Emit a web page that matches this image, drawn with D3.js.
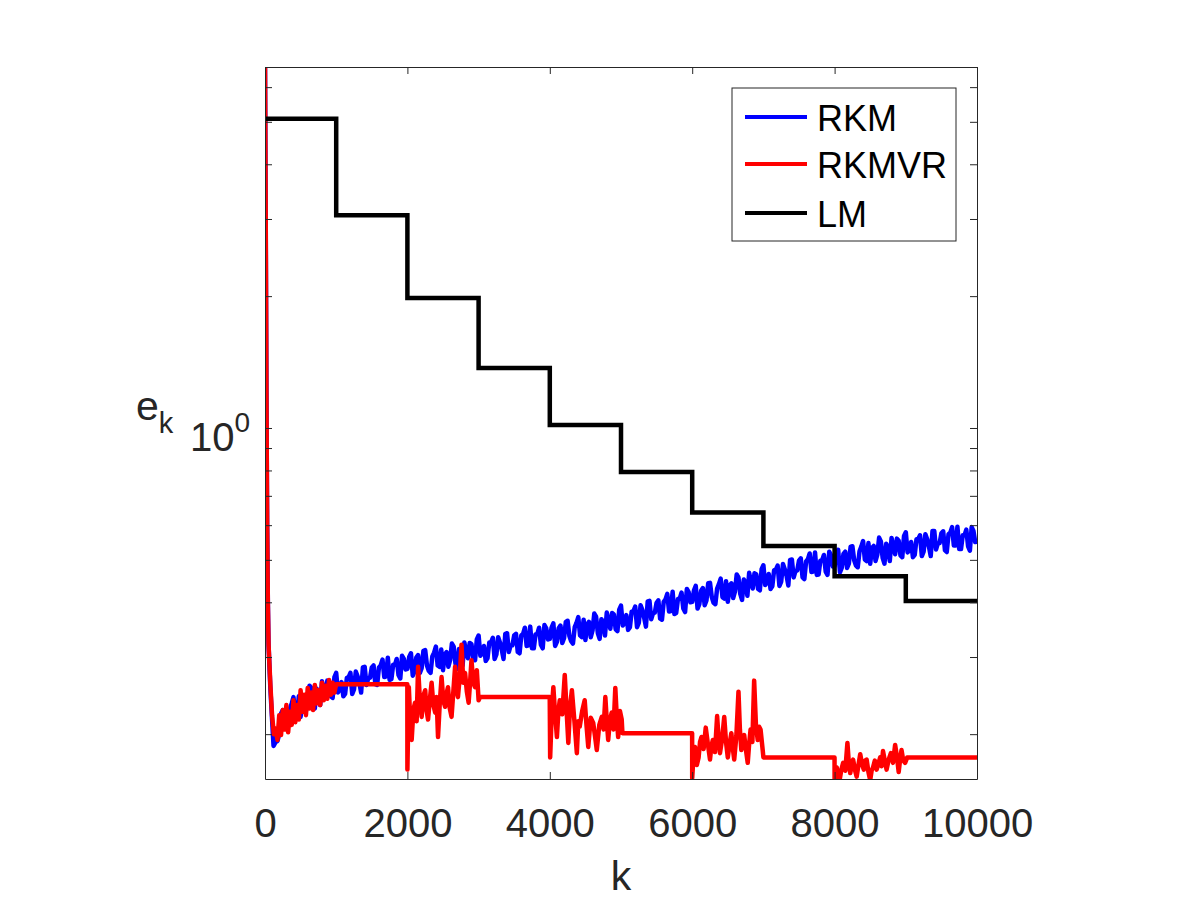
<!DOCTYPE html>
<html>
<head>
<meta charset="utf-8">
<script src="https://cdn.jsdelivr.net/npm/d3@7"></script>
<style>
  body { margin: 0; background: #fff; }
  svg { display: block; }
</style>
</head>
<body>
<svg id="chart" width="1200" height="900"></svg>
<script>
// ---------------- DATA ----------------
const seriesNames = ["RKM", "RKMVR", "LM"];
const xTickValues = [0, 2000, 4000, 6000, 8000, 10000];
const yMajorTickValues = [1];
const yMinorTickValues = [0.2, 0.3, 0.4, 0.5, 0.6, 0.7, 0.8, 0.9, 2, 3, 4, 5, 6];
const xDomain = [0, 10000];
const yDomain = [0.158, 6.67];

// LM: constant over blocks of 1000 iterations
const lmBlockStart = [0, 1000, 2000, 3000, 4000, 5000, 6000, 7000, 8000, 9000];
const lmValue = [5.08, 3.06, 1.98, 1.37, 1.016, 0.793, 0.641, 0.538, 0.459, 0.403];

// RKM: [k, e_k]
const rkmData = [
  [0,6.67],[10,3.0],[20,1.2],[30,0.6],[40,0.40],[50,0.32],[75,0.255],[100,0.215],[120,0.188],[150,0.192],
  [175,0.193],[200,0.200],[225,0.223],[250,0.227],[275,0.213],[300,0.210],[325,0.209],[350,0.228],[375,0.235],[400,0.243],
  [425,0.222],[450,0.221],[475,0.244],[500,0.219],[525,0.240],[550,0.243],[575,0.226],[600,0.235],[625,0.258],[650,0.255],
  [675,0.234],[700,0.229],[725,0.254],[750,0.250],[775,0.233],[800,0.264],[825,0.253],[850,0.243],[875,0.265],[900,0.263],
  [925,0.244],[950,0.242],[975,0.270],[1000,0.276],[1025,0.249],[1050,0.253],[1075,0.263],[1100,0.244],[1125,0.247],[1150,0.269],
  [1175,0.270],[1200,0.276],[1225,0.247],[1250,0.253],[1275,0.278],[1300,0.271],[1325,0.262],[1350,0.249],[1375,0.284],[1400,0.285],
  [1425,0.259],[1450,0.268],[1475,0.269],[1500,0.284],[1525,0.287],[1550,0.260],[1575,0.259],[1600,0.284],[1625,0.287],[1650,0.296],
  [1675,0.270],[1700,0.271],[1725,0.299],[1750,0.266],[1775,0.267],[1800,0.288],[1825,0.288],[1850,0.297],[1875,0.273],[1900,0.268],
  [1925,0.302],[1950,0.297],[1975,0.281],[2000,0.282],[2025,0.300],[2050,0.306],[2075,0.272],[2100,0.278],[2125,0.299],[2150,0.303],
  [2175,0.276],[2200,0.283],[2225,0.310],[2250,0.311],[2275,0.287],[2300,0.279],[2325,0.276],[2350,0.301],[2375,0.307],[2400,0.317],
  [2425,0.287],[2450,0.285],[2475,0.312],[2500,0.280],[2525,0.304],[2550,0.308],[2575,0.285],[2600,0.295],[2625,0.322],[2650,0.317],
  [2675,0.290],[2700,0.282],[2725,0.313],[2750,0.308],[2775,0.287],[2800,0.324],[2825,0.309],[2850,0.298],[2875,0.323],[2900,0.321],
  [2925,0.297],[2950,0.295],[2975,0.329],[3000,0.336],[3025,0.302],[3050,0.306],[3075,0.318],[3100,0.294],[3125,0.298],[3150,0.324],
  [3175,0.324],[3200,0.332],[3225,0.297],[3250,0.304],[3275,0.333],[3300,0.324],[3325,0.312],[3350,0.297],[3375,0.339],[3400,0.340],
  [3425,0.308],[3450,0.319],[3475,0.319],[3500,0.336],[3525,0.339],[3550,0.308],[3575,0.306],[3600,0.336],[3625,0.339],[3650,0.350],
  [3675,0.318],[3700,0.319],[3725,0.352],[3750,0.314],[3775,0.314],[3800,0.338],[3825,0.339],[3850,0.350],[3875,0.320],[3900,0.314],
  [3925,0.355],[3950,0.349],[3975,0.329],[4000,0.330],[4025,0.350],[4050,0.358],[4075,0.318],[4100,0.325],[4125,0.349],[4150,0.354],
  [4175,0.323],[4200,0.331],[4225,0.361],[4250,0.363],[4275,0.335],[4300,0.326],[4325,0.322],[4350,0.351],[4375,0.359],[4400,0.370],
  [4425,0.336],[4450,0.333],[4475,0.365],[4500,0.328],[4525,0.356],[4550,0.361],[4575,0.333],[4600,0.345],[4625,0.377],[4650,0.371],
  [4675,0.340],[4700,0.330],[4725,0.366],[4750,0.360],[4775,0.336],[4800,0.379],[4825,0.362],[4850,0.348],[4875,0.378],[4900,0.375],
  [4925,0.347],[4950,0.344],[4975,0.385],[5000,0.393],[5025,0.354],[5050,0.359],[5075,0.374],[5100,0.346],[5125,0.351],[5150,0.381],
  [5175,0.382],[5200,0.391],[5225,0.351],[5250,0.359],[5275,0.394],[5300,0.384],[5325,0.369],[5350,0.352],[5375,0.402],[5400,0.403],
  [5425,0.366],[5450,0.378],[5475,0.379],[5500,0.399],[5525,0.404],[5550,0.367],[5575,0.365],[5600,0.401],[5625,0.406],[5650,0.418],
  [5675,0.381],[5700,0.382],[5725,0.423],[5750,0.376],[5775,0.378],[5800,0.407],[5825,0.408],[5850,0.421],[5875,0.387],[5900,0.380],
  [5925,0.429],[5950,0.422],[5975,0.400],[6000,0.401],[6025,0.426],[6050,0.436],[6075,0.387],[6100,0.396],[6125,0.425],[6150,0.431],
  [6175,0.394],[6200,0.404],[6225,0.442],[6250,0.443],[6275,0.411],[6300,0.399],[6325,0.396],[6350,0.430],[6375,0.440],[6400,0.453],
  [6425,0.411],[6450,0.408],[6475,0.447],[6500,0.401],[6525,0.437],[6550,0.442],[6575,0.409],[6600,0.423],[6625,0.463],[6650,0.456],
  [6675,0.418],[6700,0.405],[6725,0.451],[6750,0.443],[6775,0.414],[6800,0.467],[6825,0.446],[6850,0.430],[6875,0.466],[6900,0.463],
  [6925,0.429],[6950,0.426],[6975,0.476],[7000,0.486],[7025,0.438],[7050,0.444],[7075,0.464],[7100,0.429],[7125,0.435],[7150,0.473],
  [7175,0.475],[7200,0.485],[7225,0.436],[7250,0.446],[7275,0.489],[7300,0.476],[7325,0.460],[7350,0.437],[7375,0.500],[7400,0.501],
  [7425,0.456],[7450,0.471],[7475,0.473],[7500,0.498],[7525,0.504],[7550,0.456],[7575,0.452],[7600,0.496],[7625,0.502],[7650,0.517],
  [7675,0.469],[7700,0.470],[7725,0.520],[7750,0.462],[7775,0.463],[7800,0.498],[7825,0.499],[7850,0.513],[7875,0.470],[7900,0.462],
  [7925,0.522],[7950,0.512],[7975,0.483],[8000,0.484],[8025,0.516],[8050,0.527],[8075,0.468],[8100,0.479],[8125,0.516],[8150,0.522],
  [8175,0.479],[8200,0.490],[8225,0.536],[8250,0.537],[8275,0.499],[8300,0.485],[8325,0.481],[8350,0.523],[8375,0.536],[8400,0.552],
  [8425,0.501],[8450,0.497],[8475,0.546],[8500,0.490],[8525,0.532],[8550,0.538],[8575,0.497],[8600,0.514],[8625,0.562],[8650,0.551],
  [8675,0.505],[8700,0.490],[8725,0.544],[8750,0.533],[8775,0.497],[8800,0.561],[8825,0.535],[8850,0.515],[8875,0.559],[8900,0.553],
  [8925,0.512],[8950,0.507],[8975,0.567],[9000,0.578],[9025,0.520],[9050,0.526],[9075,0.549],[9100,0.507],[9125,0.513],[9150,0.557],
  [9175,0.558],[9200,0.569],[9225,0.510],[9250,0.522],[9275,0.572],[9300,0.557],[9325,0.536],[9350,0.510],[9375,0.582],[9400,0.582],
  [9425,0.528],[9450,0.545],[9475,0.546],[9500,0.575],[9525,0.581],[9550,0.526],[9575,0.521],[9600,0.572],[9625,0.577],[9650,0.594],
  [9675,0.539],[9700,0.539],[9725,0.595],[9750,0.529],[9775,0.529],[9800,0.569],[9825,0.569],[9850,0.586],[9875,0.537],[9900,0.525],
  [9925,0.594],[9950,0.582],[9975,0.549],[10000,0.550]
];

// RKMVR: [k, e_k]
const rkmvrData = [
  [0,6.67],[10,3.0],[20,1.2],[30,0.6],[40,0.40],[50,0.32],[75,0.26],[100,0.22],[125,0.200],
  [150,0.206],[175,0.194],[200,0.221],[225,0.199],[250,0.227],[275,0.205],[300,0.233],[325,0.202],[350,0.225],[375,0.210],
  [400,0.239],[425,0.213],[450,0.233],[475,0.216],[500,0.252],[525,0.225],[550,0.246],[575,0.221],[600,0.255],[625,0.229],
  [650,0.249],[675,0.227],[700,0.259],[725,0.235],[750,0.252],[775,0.233],[800,0.262],[825,0.239],[850,0.258],[875,0.241],
  [900,0.266],[925,0.246],[950,0.262],[975,0.249],[1000,0.260],[1999,0.260],
  [2000,0.166],[2020,0.256],[2040,0.215],[2060,0.194],[2085,0.228],[2107,0.236],[2130,0.214],[2150,0.285],[2175,0.240],[2200,0.219],
  [2225,0.245],[2250,0.252],[2270,0.226],[2290,0.216],[2315,0.240],[2340,0.262],[2365,0.233],[2390,0.224],[2410,0.243],[2430,0.197],
  [2455,0.236],[2480,0.270],[2505,0.238],[2530,0.231],[2550,0.248],[2570,0.256],[2595,0.229],[2620,0.219],[2645,0.250],[2670,0.285],
  [2690,0.252],[2710,0.243],[2735,0.270],[2760,0.320],[2785,0.262],[2810,0.276],[2835,0.250],[2860,0.236],[2880,0.262],[2900,0.295],
  [2925,0.262],[2950,0.256],[2975,0.280],[3000,0.239],[3020,0.243],[3999,0.243],
  [4005,0.177],[4030,0.230],[4050,0.256],[4075,0.222],[4100,0.197],[4120,0.225],[4140,0.239],[4175,0.222],[4210,0.273],[4235,0.228],
  [4260,0.191],[4285,0.232],[4310,0.252],[4345,0.215],[4380,0.181],[4400,0.214],[4420,0.208],[4455,0.226],[4490,0.239],[4515,0.210],
  [4540,0.187],[4575,0.218],[4610,0.212],[4635,0.198],[4660,0.184],[4695,0.210],[4730,0.219],[4755,0.205],[4780,0.243],[4800,0.215],
  [4820,0.194],[4845,0.216],[4870,0.224],[4895,0.205],[4920,0.255],[4940,0.220],[4960,0.197],[4985,0.226],[5010,0.216],[5020,0.201],[5999,0.201],
  [6000,0.159],[6020,0.180],[6040,0.187],[6065,0.170],[6090,0.177],[6110,0.192],[6130,0.197],[6160,0.185],[6190,0.207],[6220,0.190],
  [6250,0.175],[6270,0.188],[6290,0.194],[6320,0.182],[6350,0.220],[6370,0.196],[6390,0.181],[6420,0.195],[6450,0.219],[6475,0.192],
  [6500,0.177],[6525,0.190],[6550,0.201],[6570,0.186],[6590,0.175],[6620,0.198],[6650,0.250],[6670,0.205],[6690,0.184],[6710,0.196],
  [6730,0.199],[6755,0.184],[6780,0.172],[6800,0.190],[6820,0.205],[6845,0.192],[6870,0.265],[6895,0.210],[6920,0.194],[6940,0.208],
  [6960,0.205],[6990,0.184],[7000,0.177],[7999,0.177],
  [8000,0.156],[8015,0.165],[8030,0.168],[8050,0.160],[8070,0.157],[8095,0.166],[8120,0.172],[8150,0.165],[8180,0.191],[8200,0.172],
  [8220,0.163],[8240,0.170],[8260,0.175],[8285,0.166],[8310,0.160],[8335,0.170],[8360,0.180],[8385,0.171],[8410,0.166],[8430,0.174],
  [8450,0.175],[8475,0.164],[8500,0.157],[8520,0.165],[8540,0.168],[8565,0.174],[8590,0.166],[8615,0.171],[8640,0.177],[8660,0.169],
  [8680,0.183],[8705,0.174],[8730,0.166],[8760,0.175],[8790,0.181],[8820,0.172],[8850,0.189],[8875,0.178],[8900,0.164],[8920,0.175],
  [8940,0.184],[8965,0.174],[8990,0.172],[9020,0.177],[10000,0.177]
];

// ---------------- LAYOUT ----------------
const plot = { left: 265, right: 977, top: 67, bottom: 779 };
const lineColors = { RKM: "#0000ff", RKMVR: "#ff0000", LM: "#000000" };
const axisColor = "#262626";
const fontFamily = "'Liberation Sans', Arial, Helvetica, sans-serif";
const dataLineWidth = 4.5;

const svg = d3.select("#chart");

const x = d3.scaleLinear().domain(xDomain).range([plot.left, plot.right]);
const y = d3.scaleLog().domain(yDomain).range([plot.bottom, plot.top]);

// clip
svg.append("defs").append("clipPath").attr("id", "plotClip")
  .append("rect")
  .attr("x", plot.left).attr("y", plot.top)
  .attr("width", plot.right - plot.left).attr("height", plot.bottom - plot.top);

// LM stair points
const lmData = lmBlockStart.map((k, i) => [k, lmValue[i]]);
lmData.push([xDomain[1], lmValue[lmValue.length - 1]]);

const lineGen = d3.line().x(d => x(d[0])).y(d => y(d[1]));
const stepGen = d3.line().x(d => x(d[0])).y(d => y(d[1])).curve(d3.curveStepAfter);

const gData = svg.append("g").attr("clip-path", "url(#plotClip)");
gData.append("path").datum(rkmData).attr("d", lineGen)
  .attr("fill", "none").attr("stroke", lineColors.RKM).attr("stroke-width", dataLineWidth)
  .attr("stroke-linejoin", "round");
gData.append("path").datum(rkmvrData).attr("d", lineGen)
  .attr("fill", "none").attr("stroke", lineColors.RKMVR).attr("stroke-width", dataLineWidth)
  .attr("stroke-linejoin", "round");
gData.append("path").datum(lmData).attr("d", stepGen)
  .attr("fill", "none").attr("stroke", lineColors.LM).attr("stroke-width", dataLineWidth);

// ---------------- AXES ----------------
const tickLen = 7;
const gAxes = svg.append("g");

// bottom axis
const xAxisBottom = d3.axisBottom(x).tickValues(xTickValues).tickSizeInner(-tickLen).tickSizeOuter(0)
  .tickFormat(d3.format("d"));
const gxb = gAxes.append("g").attr("transform", `translate(0,${plot.bottom})`).call(xAxisBottom);
gxb.select(".domain").attr("stroke", axisColor);
gxb.selectAll(".tick line").attr("stroke", axisColor);
gxb.selectAll(".tick text").attr("fill", axisColor).attr("font-size", 40).attr("font-family", fontFamily)
  .attr("dy", null).attr("y", 58);

// top axis (ticks only)
const xAxisTop = d3.axisTop(x).tickValues(xTickValues).tickSizeInner(-tickLen).tickSizeOuter(0).tickFormat("");
const gxt = gAxes.append("g").attr("transform", `translate(0,${plot.top})`).call(xAxisTop);
gxt.select(".domain").attr("stroke", axisColor);
gxt.selectAll(".tick line").attr("stroke", axisColor);

// left axis (major + minor ticks)
const yAllTicks = yMajorTickValues.concat(yMinorTickValues);
const yAxisLeft = d3.axisLeft(y).tickValues(yAllTicks).tickSizeInner(-tickLen).tickSizeOuter(0).tickFormat("");
const gyl = gAxes.append("g").attr("transform", `translate(${plot.left},0)`).call(yAxisLeft);
gyl.select(".domain").attr("stroke", axisColor);
gyl.selectAll(".tick line").attr("stroke", axisColor);

const yAxisRight = d3.axisRight(y).tickValues(yAllTicks).tickSizeInner(-tickLen).tickSizeOuter(0).tickFormat("");
const gyr = gAxes.append("g").attr("transform", `translate(${plot.right},0)`).call(yAxisRight);
gyr.select(".domain").attr("stroke", axisColor);
gyr.selectAll(".tick line").attr("stroke", axisColor);

// y major tick label 10^0
yMajorTickValues.forEach(v => {
  const exp = Math.round(Math.log10(v));
  const t = svg.append("text")
    .attr("x", plot.left - 15).attr("y", y(v) + 23)
    .attr("text-anchor", "end")
    .attr("font-family", fontFamily).attr("fill", axisColor).attr("font-size", 40);
  t.append("tspan").text("10");
  t.append("tspan").attr("font-size", 28).attr("dy", -19).text(String(exp));
});

// axis labels
svg.append("text").attr("x", (plot.left + plot.right) / 2).attr("y", 890)
  .attr("text-anchor", "middle").attr("font-family", fontFamily).attr("font-size", 41)
  .attr("fill", axisColor).text("k");

const yl = svg.append("text").attr("x", 136).attr("y", 420)
  .attr("font-family", fontFamily).attr("font-size", 41).attr("fill", axisColor);
yl.append("tspan").text("e");
yl.append("tspan").attr("font-size", 29).attr("dy", 13).text("k");

// ---------------- LEGEND ----------------
const legend = { x: 732, y: 88, w: 224, h: 153 };
const legendRows = [117, 164, 213];
const gLeg = svg.append("g");
gLeg.append("rect").attr("x", legend.x).attr("y", legend.y).attr("width", legend.w).attr("height", legend.h)
  .attr("fill", "#fff").attr("stroke", axisColor).attr("stroke-width", 1);
seriesNames.forEach((name, i) => {
  gLeg.append("line").attr("x1", 745).attr("x2", 807).attr("y1", legendRows[i]).attr("y2", legendRows[i])
    .attr("stroke", lineColors[name]).attr("stroke-width", 4);
  gLeg.append("text").attr("x", 817).attr("y", legendRows[i] + 14)
    .attr("font-family", fontFamily).attr("font-size", 36).attr("fill", "#000").text(name);
});
</script>
</body>
</html>
